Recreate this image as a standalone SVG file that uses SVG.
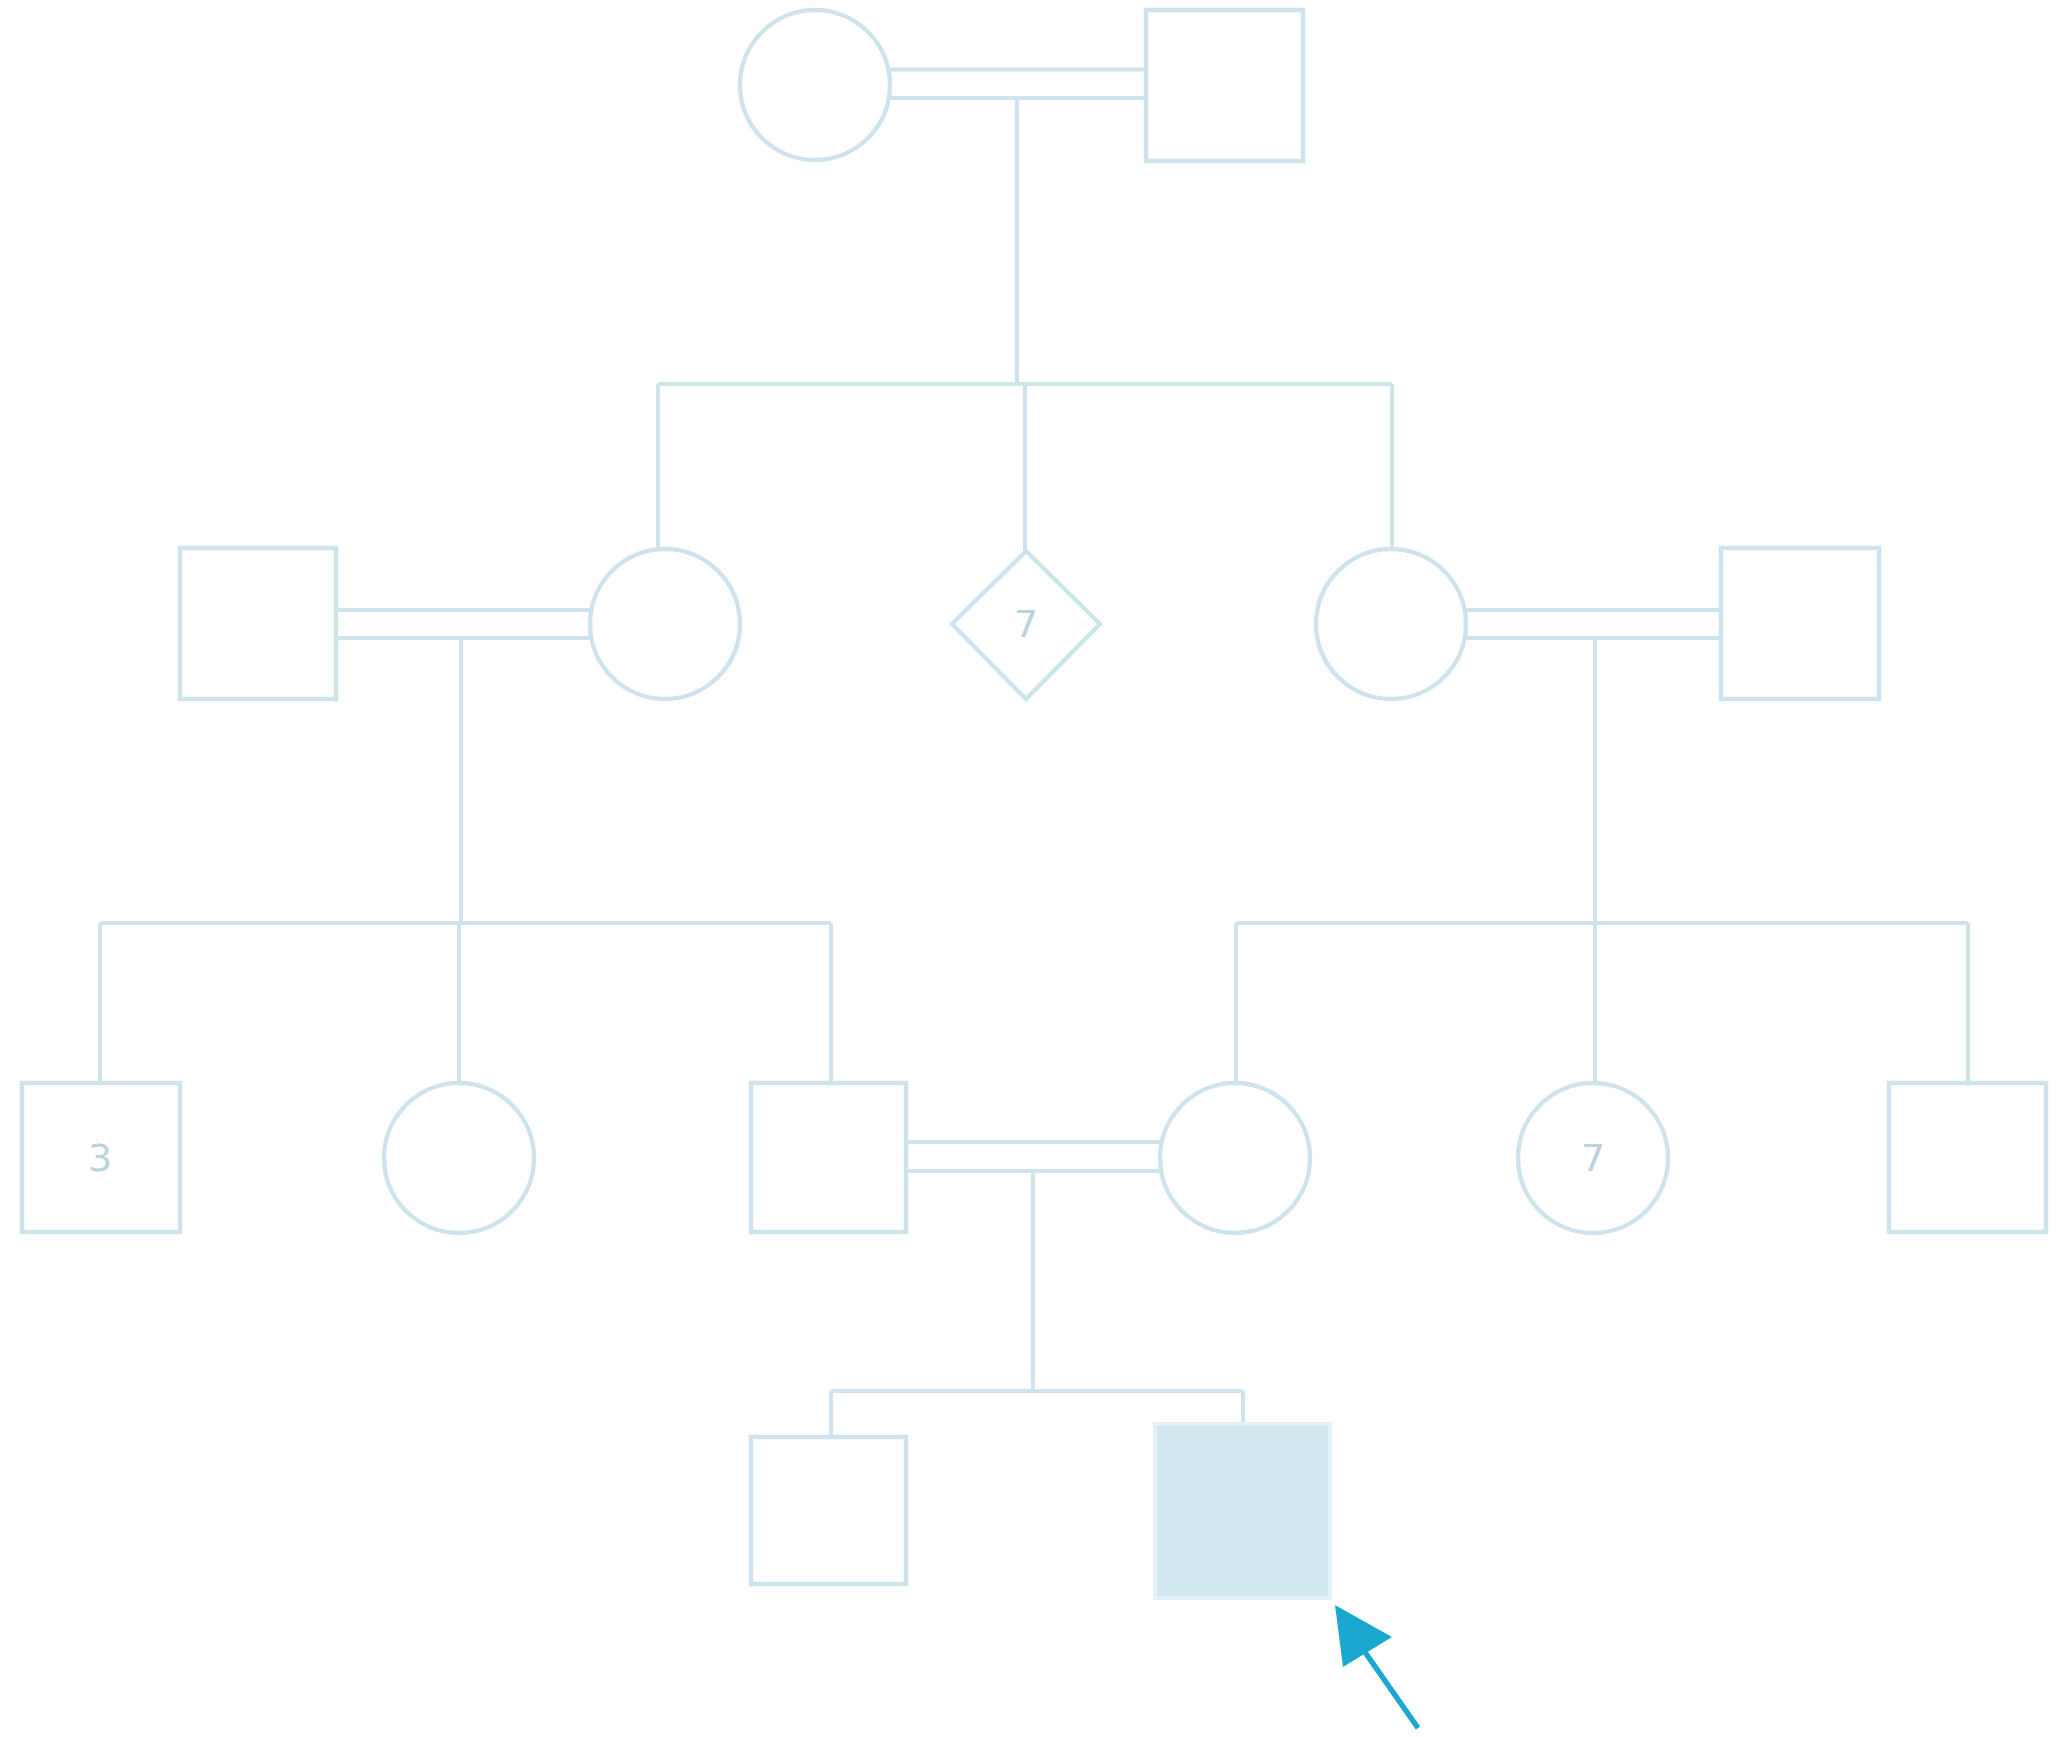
<svg xmlns="http://www.w3.org/2000/svg" width="2056" height="1737" viewBox="0 0 2056 1737">
<style>
.n{fill:#ffffff;stroke:#cfe3ec;stroke-width:4.5}
.c{fill:none;stroke:#cfe3ec;stroke-width:4}
.aff{fill:#d2e8f1;stroke:#e4f1f6;stroke-width:4}
.t{font-family:"DejaVu Sans","Liberation Sans",sans-serif;font-size:38px;fill:#b9d3df;text-anchor:middle;dominant-baseline:central}
</style>
<rect width="2056" height="1737" fill="#ffffff"/>
<g id="connectors">
<path class="c" d="M888 69.5H1146M888 98H1146"/>
<path class="c" d="M1017 98V384M658 384H1392M658 384V548M1025 384V551M1392 384V548"/>
<path class="c" d="M336 610H590M336 638H590M461 638V923"/>
<path class="c" d="M100 923H831M100 923V1083M459 923V1083M831 923V1083"/>
<path class="c" d="M1466 610H1721M1466 638H1721M1595 638V1083M1236 923H1968M1236 923V1083M1968 923V1083"/>
<path class="c" d="M906 1142H1160M906 1171H1160M1033 1171V1391M831 1391H1243M831 1391V1437M1243 1391V1422"/>
</g>
<g id="gen1-mother"><circle class="n" cx="815" cy="85" r="75"/></g>
<g id="gen1-father"><rect class="n" x="1146" y="10" width="157" height="151"/></g>
<g id="gen2-husband-left"><rect class="n" x="180" y="548" width="156" height="151"/></g>
<g id="gen2-daughter-left"><circle class="n" cx="665" cy="624" r="75"/></g>
<g id="gen2-diamond"><polygon class="n" points="1026,551 1100,624 1026,699 952,624"/><text class="t" x="1026" y="624">7</text></g>
<g id="gen2-daughter-right"><circle class="n" cx="1391" cy="624" r="75"/></g>
<g id="gen2-husband-right"><rect class="n" x="1721" y="548" width="158" height="151"/></g>
<g id="gen3-sons-3"><rect class="n" x="22" y="1083" width="158" height="149"/><text class="t" x="100" y="1158">3</text></g>
<g id="gen3-daughter"><circle class="n" cx="459" cy="1158" r="75"/></g>
<g id="gen3-father"><rect class="n" x="751" y="1083" width="155" height="149"/></g>
<g id="gen3-mother"><circle class="n" cx="1235" cy="1158" r="75"/></g>
<g id="gen3-daughters-7"><circle class="n" cx="1593" cy="1158" r="75"/><text class="t" x="1593" y="1158">7</text></g>
<g id="gen3-son-right"><rect class="n" x="1889" y="1083" width="157" height="149"/></g>
<g id="gen4-brother"><rect class="n" x="751" y="1437" width="155" height="147"/></g>
<g id="gen4-proband"><rect class="aff" x="1155" y="1424" width="175" height="174"/></g>
<g id="proband-arrow">
<line x1="1418" y1="1728" x2="1360" y2="1645" stroke="#1aa7d0" stroke-width="5.5"/>
<polygon points="1335,1605 1392,1637 1343,1667" fill="#1aa7d0"/>
</g>
</svg>
